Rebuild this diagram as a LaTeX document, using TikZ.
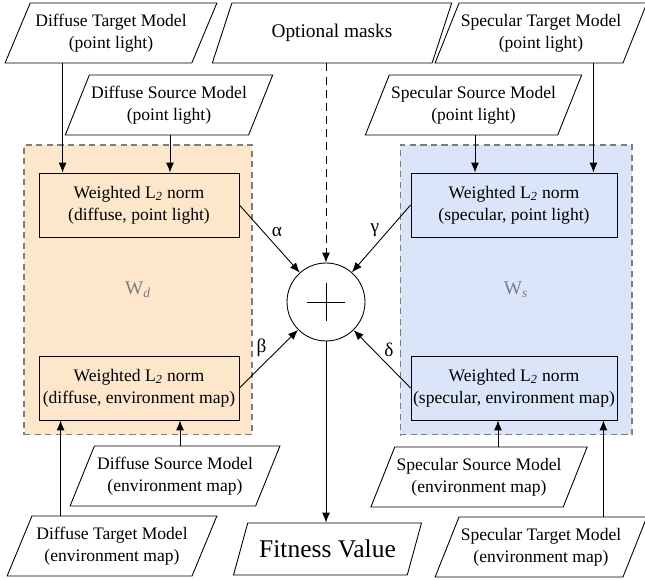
\documentclass[tikz,border=0pt]{standalone}
\usepackage{fontspec}
\setmainfont{Liberation Serif}
\usetikzlibrary{shapes.geometric,arrows.meta}

\definecolor{diffusefill}{RGB}{252,231,203}
\definecolor{specularfill}{RGB}{219,229,250}
\definecolor{framegray}{RGB}{125,125,125}

\newcommand{\wnorm}{Weighted L\textsubscript{\textit{2}} norm}

\tikzset{
  model/.style={draw, trapezium, trapezium left angle=60, trapezium right angle=120,
    trapezium stretches=true, minimum height=1.2cm, align=center, inner sep=1pt,
    line width=0.5pt, font=\fontsize{10}{12.5}\selectfont},
  normbox/.style={draw, rectangle, minimum height=1.28cm, align=center, inner sep=1pt,
    line width=0.5pt, font=\fontsize{10}{12.5}\selectfont},
  groupbox/.style={draw=framegray, dash pattern=on 3.5pt off 2.5pt, line width=0.6pt,
    text=framegray, font=\fontsize{11}{13}\selectfont},
  arr/.style={-{Latex[length=2mm,width=1.6mm]}, line width=0.5pt},
  weight/.style={inner sep=1pt, font=\fontsize{11}{13}\selectfont}
}

\begin{document}
\begin{tikzpicture}[x=0.02cm,y=-0.02cm]
  \useasboundingbox (0,0) rectangle (645,580);

  % groups
  \node[groupbox, fill=diffusefill, minimum width=4.56cm, minimum height=5.8cm] (wd) at (138,290) {W\textsubscript{\textit{d}}};
  \node[groupbox, fill=specularfill, minimum width=4.64cm, minimum height=5.8cm] (ws) at (516,290) {W\textsubscript{\textit{s}}};

  % inputs
  \node[model, minimum width=4.24cm] (dtp) at (111,33) {Diffuse Target Model\\(point light)};
  \node[model, minimum width=4.8cm, font=\fontsize{11}{13}\selectfont] (mask) at (332,33) {Optional masks};
  \node[model, minimum width=4.16cm] (stp) at (541,33) {Specular Target Model\\(point light)};
  \node[model, minimum width=4.04cm] (dsp) at (169,105) {Diffuse Source Model\\(point light)};
  \node[model, minimum width=4.14cm] (ssp) at (473.5,105) {Specular Source Model\\(point light)};
  \node[model, minimum width=4.2cm] (dse) at (175,476) {Diffuse Source Model\\(environment map)};
  \node[model, minimum width=4.2cm] (dte) at (112,546) {Diffuse Target Model\\(environment map)};
  \node[model, minimum width=4.24cm] (sse) at (479,477) {Specular Source Model\\(environment map)};
  \node[model, minimum width=4.14cm] (ste) at (541,547) {Specular Target Model\\(environment map)};

  % norms
  \node[normbox, minimum width=4cm] (w1) at (139,205) {\wnorm\\(diffuse, point light)};
  \node[normbox, minimum width=4cm] (w2) at (139,388) {\wnorm\\(diffuse, environment map)};
  \node[normbox, minimum width=4.12cm] (w3) at (514,205) {\wnorm\\(specular, point light)};
  \node[normbox, minimum width=4.12cm] (w4) at (514,388) {\wnorm\\(specular, environment map)};

  % sum and output
  \node[draw, circle, minimum size=1.56cm, line width=0.5pt] (sum) at (326,302) {};
  \draw[line width=0.5pt] ([xshift=-0.38cm]sum.center) -- ([xshift=0.38cm]sum.center);
  \draw[line width=0.5pt] ([yshift=-0.38cm]sum.center) -- ([yshift=0.38cm]sum.center);
  \node[model, minimum width=3.78cm, minimum height=1.04cm, font=\fontsize{14.5}{16}\selectfont] (fit) at (327.5,549) {Fitness Value};

  % inputs to norms
  \draw[arr] ([xshift=0.48cm]w1.north west |- dtp.south) -- ([xshift=0.48cm]w1.north west);
  \draw[arr] ([xshift=0.62cm]w1.north |- dsp.south) -- ([xshift=0.62cm]w1.north);
  \draw[arr] ([xshift=-0.78cm]w3.north |- ssp.south) -- ([xshift=-0.78cm]w3.north);
  \draw[arr] ([xshift=-0.48cm]w3.north east |- stp.south) -- ([xshift=-0.48cm]w3.north east);
  \draw[arr] ([xshift=0.44cm]w2.south west |- dte.north) -- ([xshift=0.44cm]w2.south west);
  \draw[arr] ([xshift=0.82cm]w2.south |- dse.north) -- ([xshift=0.82cm]w2.south);
  \draw[arr] ([xshift=-0.32cm]w4.south |- sse.north) -- ([xshift=-0.32cm]w4.south);
  \draw[arr] ([xshift=-0.28cm]w4.south east |- ste.north) -- ([xshift=-0.28cm]w4.south east);

  % weights
  \draw[arr] (w1.east) -- (sum) node[weight, midway, above right] {α};
  \draw[arr] (w2.east) -- (sum) node[weight, midway, above left] {β};
  \draw[arr] (w3.west) -- (sum) node[weight, midway, above left] {γ};
  \draw[arr] (w4.west) -- (sum) node[weight, midway, above right] {δ};

  \draw[arr, dash pattern=on 4.5pt off 3pt] (mask.south -| sum) -- (sum.north);
  \draw[arr] (sum.south) -- (sum.south |- fit.north);
\end{tikzpicture}
\end{document}
